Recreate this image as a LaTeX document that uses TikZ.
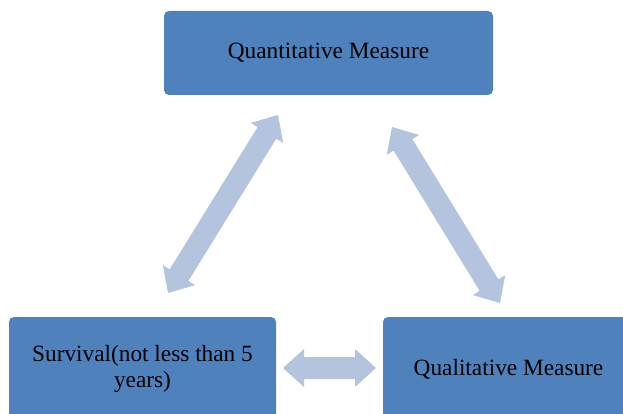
\documentclass[tikz,border=0pt]{standalone}
\usepackage{fontspec}
\setmainfont{Liberation Serif}
\usetikzlibrary{calc}
\definecolor{boxblue}{HTML}{4F81BD}
\definecolor{arrowblue}{HTML}{B4C3DE}
\tikzset{
  box/.style={rectangle, rounded corners=5pt, fill=boxblue, draw=none, text=black,
    font=\fontsize{23.3}{25.5}\selectfont, align=center, inner sep=0pt},
  arrowfill/.style={fill=arrowblue, draw=none}
}
% block double arrow between two named coordinates
\newcommand\dblblockarrow[2]{%
  \fill[arrowfill] (#1)
    -- ($(#1)!21pt!(#2)!19pt!90:(#2)$)
    -- ($(#1)!21pt!(#2)!11pt!90:(#2)$)
    -- ($(#2)!21pt!(#1)!11pt!-90:(#1)$)
    -- ($(#2)!21pt!(#1)!19pt!-90:(#1)$)
    -- (#2)
    -- ($(#2)!21pt!(#1)!19pt!90:(#1)$)
    -- ($(#2)!21pt!(#1)!11pt!90:(#1)$)
    -- ($(#1)!21pt!(#2)!11pt!-90:(#2)$)
    -- ($(#1)!21pt!(#2)!19pt!-90:(#2)$)
    -- cycle;}
\begin{document}
\begin{tikzpicture}[x=1pt,y=-1pt]
\fill[white] (0,0) rectangle (623,414);
\useasboundingbox (0,0) rectangle (623,414);
\clip (0,0) rectangle (623,414);
\node[box, minimum width=329pt, minimum height=84pt] (quant) at (328.5,53) {Quantitative Measure};
\node[box, minimum width=267pt, minimum height=104pt] (surv) at (142.5,369) {Survival(not less than 5\\years)};
\node[box, minimum width=251pt, minimum height=104pt] (qual) at (508.5,369) {Qualitative Measure};
\coordinate (la) at (278,115);
\coordinate (lb) at (168,293);
\coordinate (ra) at (392,127);
\coordinate (rb) at (500,303);
\coordinate (ha) at (283,368);
\coordinate (hb) at (376,368);
\dblblockarrow{la}{lb}
\dblblockarrow{ra}{rb}
\dblblockarrow{ha}{hb}
\end{tikzpicture}
\end{document}
